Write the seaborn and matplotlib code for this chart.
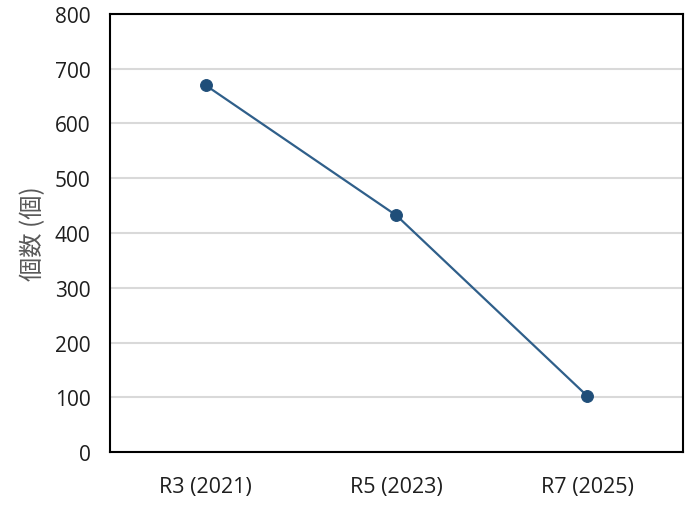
import matplotlib
matplotlib.use("Agg")
import matplotlib.pyplot as plt
import seaborn as sns
import pandas as pd

# Counts per survey year
years = ["R3 (2021)", "R5 (2023)", "R7 (2025)"]
counts = [670, 432, 102]
y_ticks = [0, 100, 200, 300, 400, 500, 600, 700, 800]

df = pd.DataFrame({"year": years, "count": counts})

sns.set_theme(style="white")
plt.rcParams["font.family"] = ["Open Sans", "Noto Sans CJK JP", "DejaVu Sans"]

fig = plt.figure(figsize=(6.85, 5.06), dpi=100)
ax = fig.add_axes([0.1606, 0.1047, 0.8364, 0.8657])

ax.set_axisbelow(True)
ax.yaxis.grid(True, color="#D9D9D9", linewidth=1.5)
ax.xaxis.grid(False)

sns.lineplot(data=df, x="year", y="count", ax=ax, sort=False,
             color="#2F5F8A", linewidth=1.6, marker="o", markersize=8.5,
             markerfacecolor="#1F4E79", markeredgecolor="#1F4E79")

ax.set_xlim(-0.5, 2.5)
ax.set_ylim(0, 800)
ax.set_yticks(y_ticks)
ax.set_yticklabels([str(v) for v in y_ticks])
ax.tick_params(axis="both", length=0, labelsize=15, colors="#1E1E1E")
ax.tick_params(axis="x", pad=17, labelsize=15.5)
ax.tick_params(axis="y", pad=14)

ax.set_xlabel("")
ax.set_ylabel("個数 (個)", fontsize=17.5, color="#595959",
              family=["Noto Sans CJK JP", "DejaVu Sans"], labelpad=6)

for s in ax.spines.values():
    s.set_visible(True)
    s.set_color("black")
    s.set_linewidth(1.5)

fig.savefig("out.png", dpi=100, facecolor="white")
